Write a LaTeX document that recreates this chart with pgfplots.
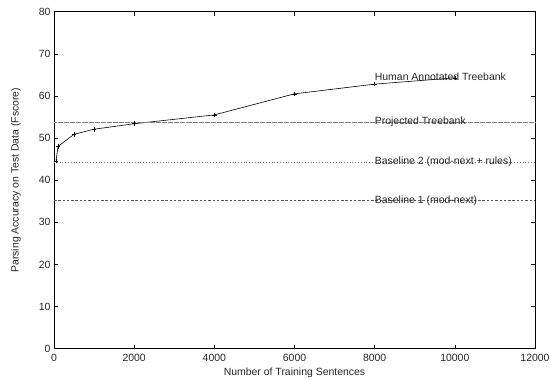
\documentclass[border=0pt]{standalone}
\usepackage{fontspec}
\setmainfont{Liberation Sans}
\usepackage{pgfplots}
\pgfplotsset{compat=1.18}
\begin{document}
\begin{tikzpicture}
\begin{axis}[
  scale only axis,
  width=481bp, height=337bp,
  xmin=0, xmax=12000, ymin=0, ymax=80,
  xtick={0,2000,...,12000},
  ytick={0,10,...,80},
  scaled x ticks=false,
  /pgf/number format/assume math mode=true,
  /pgf/number format/set thousands separator={},
  tick align=inside,
  major tick length=4bp,
  tick style={black, line width=0.5pt},
  axis line style={black, line width=0.9pt},
  ticklabel style={font=\fontsize{10.5}{12}\selectfont, text=black!85},
  xticklabel style={yshift=-2bp},
  label style={font=\fontsize{10.5}{12}\selectfont, text=black!85},
  xlabel={Number of Training Sentences},
  ylabel={Parsing Accuracy on Test Data (Fscore)},
  xlabel style={at={(axis description cs:0.5,0)}, anchor=center, yshift=-24.5bp},
  ylabel style={at={(axis description cs:0,0.5)}, anchor=center, yshift=38bp},
  clip=false,
]
\addplot[black, line width=0.6pt, mark=+, mark size=2.3pt, mark options={line width=0.5pt}]
  coordinates {(50,44.6) (100,48.0) (500,50.9) (1000,52.1) (2000,53.4) (4000,55.5) (6000,60.5) (8000,62.8) (10000,64.3)};
\addplot[black!50, line width=0.5pt, dash pattern=on 0.4pt off 0.8pt] coordinates {(0,53.85) (12000,53.85)};
\addplot[black!55, line width=0.8pt, dash pattern=on 0.9pt off 1.9pt] coordinates {(0,44.25) (12000,44.25)};
\addplot[black!65, line width=0.7pt, dash pattern=on 2.5pt off 1.8pt] coordinates {(0,35.1) (12000,35.1)};
\node[anchor=west, inner sep=0pt, font=\fontsize{10.5}{12}\selectfont, text=black!85] at (axis cs:8000,64.6) {Human Annotated Treebank};
\node[anchor=west, inner sep=0pt, font=\fontsize{10.5}{12}\selectfont, text=black!85] at (axis cs:8000,53.9) {Projected Treebank};
\node[anchor=west, inner sep=0pt, font=\fontsize{10.5}{12}\selectfont, text=black!85] at (axis cs:8000,44.3) {Baseline 2 (mod-next + rules)};
\node[anchor=west, inner sep=0pt, font=\fontsize{10.5}{12}\selectfont, text=black!85] at (axis cs:8000,35.1) {Baseline 1 (mod-next)};
\coordinate (bbll) at (rel axis cs:-0.1123,-0.0919);
\coordinate (bbur) at (rel axis cs:1.0312,1.0347);
\end{axis}
\pgfresetboundingbox
\path[use as bounding box] (bbll) rectangle (bbur);
\end{tikzpicture}
\end{document}
